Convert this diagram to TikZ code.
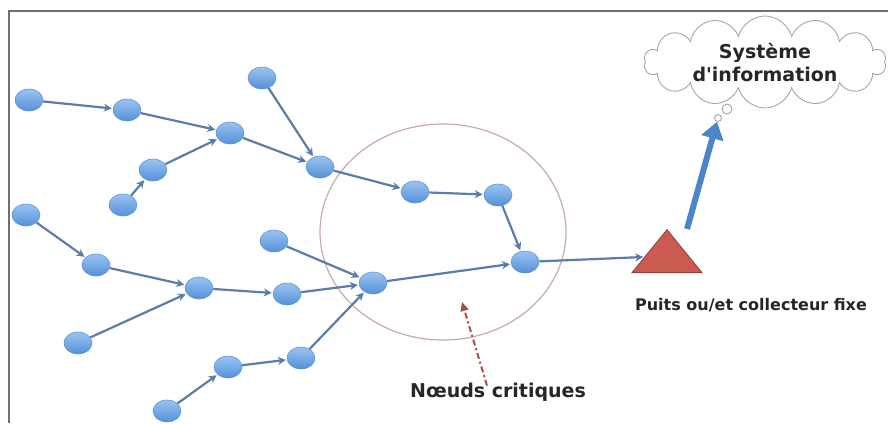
\documentclass[tikz,border=0pt]{standalone}
\usepackage{fontspec}
\newfontfamily\lblfont{DejaVu Sans}
\usetikzlibrary{positioning,shapes.geometric,shapes.symbols,arrows.meta}

\definecolor{noeudhaut}{HTML}{99C4F2}
\definecolor{noeudbas}{HTML}{5590D8}
\definecolor{noeudbord}{HTML}{6494CE}
\definecolor{lien}{HTML}{5B7DAA}
\definecolor{envoi}{HTML}{4A86C8}
\definecolor{puitsrouge}{HTML}{CB5A50}
\definecolor{zone}{HTML}{C9A9A9}
\definecolor{cadre}{HTML}{707070}

\begin{document}
\begin{tikzpicture}[x=1pt,y=-1pt]
                    \tikzstyle{capteur}=[ellipse,draw=noeudbord,line width=0.6,top color=noeudhaut,bottom color=noeudbas,minimum width=28,minimum height=22,inner sep=0]
                    \tikzstyle{lbl}=[font=\lblfont\bfseries\fontsize{19}{23}\selectfont,text=black!85,align=center,inner sep=0]
                    \tikzstyle{saut}=[-{Stealth[length=8,width=8]},draw=lien,line width=2.2,shorten >=1]
                    \useasboundingbox (0,0) rectangle (888,423);
                    \draw[cadre,line width=2] (9,423) -- (9,11) -- (888,11);
                    {
                        % zone des noeuds critiques
                        \draw[zone,line width=1.2] (443,232) ellipse [x radius=123,y radius=108];

                        \node[capteur] (n1) at (29,100) {};
                        \node[capteur] (n2) at (127,110) {};
                        \node[capteur] (n3) at (230,133) {};
                        \node[capteur] (n4) at (262,78) {};
                        \node[capteur] (n5) at (153,170) {};
                        \node[capteur] (n6) at (123,205) {};
                        \node[capteur] (n7) at (320,167) {};
                        \node[capteur] (n8) at (415,192) {};
                        \node[capteur] (n9) at (498,195) {};
                        \node[capteur] (n10) at (525,262) {};
                        \node[capteur] (n11) at (26,215) {};
                        \node[capteur] (n12) at (96,265) {};
                        \node[capteur] (n13) at (199,288) {};
                        \node[capteur] (n14) at (287,294) {};
                        \node[capteur] (n15) at (373,283) {};
                        \node[capteur] (n16) at (274,241) {};
                        \node[capteur] (n17) at (78,343) {};
                        \node[capteur] (n18) at (167,411) {};
                        \node[capteur] (n19) at (228,367) {};
                        \node[capteur] (n20) at (301,358) {};

                        \node[isosceles triangle,isosceles triangle apex angle=78,isosceles triangle stretches,shape border rotate=90,
                              fill=puitsrouge,draw=puitsrouge!70!black,line width=0.8,minimum width=70,minimum height=43,inner sep=0] (puits) at (667,256) {};
                        \node[lbl,font=\lblfont\bfseries\fontsize{16}{20}\selectfont] (lpuits) at (751,305) {Puits ou/et collecteur fixe};

                        \node[cloud,cloud puffs=14,aspect=2.7,draw=black!35,line width=0.9,minimum width=242,minimum height=92] (si) at (765,62) {};
                        \node[lbl] (lsi) at (765,63) {Système\\d'information};
                        \node[circle,draw=black!40,line width=0.8,minimum size=10,inner sep=0] (b1) at (727,109) {};
                        \node[circle,draw=black!40,line width=0.8,minimum size=7,inner sep=0] (b2) at (718,118) {};

                        \node[lbl] (crit) at (498,392) {Nœuds critiques};
                        \coordinate (cible) at (462,302);

                        \path[saut]
                            (n1) edge (n2)
                            (n2) edge (n3)
                            (n6) edge (n5)
                            (n5) edge (n3)
                            (n3) edge (n7)
                            (n4) edge (n7)
                            (n7) edge (n8)
                            (n8) edge (n9)
                            (n9) edge (n10)
                            (n11) edge (n12)
                            (n12) edge (n13)
                            (n17) edge (n13)
                            (n13) edge (n14)
                            (n14) edge (n15)
                            (n16) edge (n15)
                            (n18) edge (n19)
                            (n19) edge (n20)
                            (n20) edge (n15)
                            (n15) edge (n10)
                            (n10) edge (puits);

                        \draw[envoi,line width=6,-{Triangle[length=17,width=22]}] ([xshift=20]puits.north) -- (b2);
                        \draw[puitsrouge!85!black,line width=2,dash pattern=on 6 off 3 on 2 off 3,-{Triangle[length=9,width=8]}]
                            ([xshift=-11,yshift=-3]crit.north) -- (cible);
                    }
                \end{tikzpicture}
\end{document}
